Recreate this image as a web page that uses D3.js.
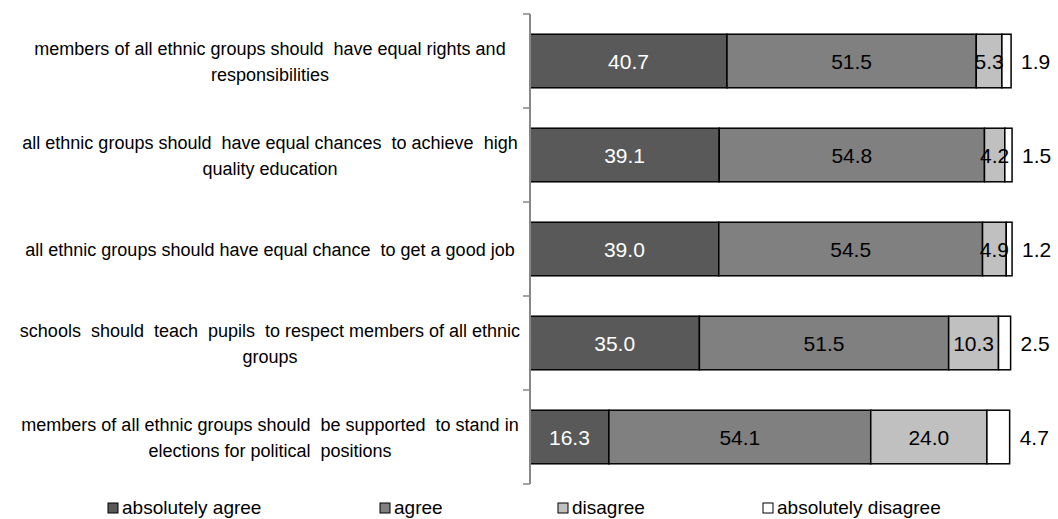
<!DOCTYPE html>
<html>
<head>
<meta charset="utf-8">
<script src="https://cdn.jsdelivr.net/npm/d3@7"></script>
<style>
  body { margin: 0; background: #fff; }
  svg { font-family: "Liberation Sans", Arial, sans-serif; }
</style>
</head>
<body>
<svg></svg>

<script>
  // data
  var categories = [
    "members of all ethnic groups should  have equal rights and\nresponsibilities",
    "all ethnic groups should  have equal chances  to achieve  high\nquality education",
    "all ethnic groups should have equal chance  to get a good job",
    "schools  should  teach  pupils  to respect members of all ethnic\ngroups",
    "members of all ethnic groups should  be supported  to stand in\nelections for political  positions"
  ];
  var seriesNames = ["absolutely agree", "agree", "disagree", "absolutely disagree"];
  var absolutelyAgree    = [40.7, 39.1, 39.0, 35.0, 16.3];
  var agree              = [51.5, 54.8, 54.5, 51.5, 54.1];
  var disagree           = [5.3, 4.2, 4.9, 10.3, 24.0];
  var absolutelyDisagree = [1.9, 1.5, 1.2, 2.5, 4.7];

  var colors = ["#595959", "#808080", "#c0c0c0", "#ffffff"];
  var labelColors = ["#fff", "#000", "#000", "#000"];

  var width = 1058, height = 519;
  var svg = d3.select("svg").attr("width", width).attr("height", height);

  var rows = categories.map(function(c, i) {
    return {cat: c, vals: [absolutelyAgree[i], agree[i], disagree[i], absolutelyDisagree[i]]};
  });

  var x = d3.scaleLinear().domain([0, 100]).range([530, 1014]);
  var y = d3.scaleBand().domain(categories).range([14, 484])
    .paddingInner(0.43).paddingOuter(0.215);

  // stacked segments
  var stack = d3.stack().keys([0, 1, 2, 3]).value(function(d, k) { return d.vals[k]; });
  var layers = stack(rows);

  var g = svg.selectAll("g.layer").data(layers)
    .enter().append("g").attr("class", "layer")
    .attr("fill", function(d, i) { return colors[i]; });

  g.selectAll("rect").data(function(d) { return d; })
    .enter().append("rect")
    .attr("x", function(d) { return x(d[0]); })
    .attr("y", function(d) { return y(d.data.cat); })
    .attr("width", function(d) { return x(d[1]) - x(d[0]); })
    .attr("height", y.bandwidth())
    .attr("stroke", "#000")
    .attr("stroke-width", 1.5);

  // value labels: inside for first three, outside right for the last
  layers.forEach(function(layer, k) {
    svg.selectAll("text.v" + k).data(layer)
      .enter().append("text")
      .attr("class", "v" + k)
      .attr("x", function(d) { return k < 3 ? (x(d[0]) + x(d[1])) / 2 : x(d[1]) + 10; })
      .attr("y", function(d) { return y(d.data.cat) + y.bandwidth() / 2; })
      .attr("text-anchor", k < 3 ? "middle" : "start")
      .attr("dominant-baseline", "central")
      .attr("font-size", 21)
      .attr("fill", labelColors[k])
      .text(function(d, i) { return d.data.vals[k].toFixed(1); });
  });

  // category axis
  var axisColor = "#868686";
  svg.append("line")
    .attr("x1", 530).attr("x2", 530)
    .attr("y1", y.range()[0]).attr("y2", y.range()[1])
    .attr("stroke", axisColor).attr("stroke-width", 2);

  var tickYs = d3.range(categories.length + 1).map(function(i) { return y.range()[0] + i * y.step(); });
  svg.selectAll("line.tick").data(tickYs)
    .enter().append("line").attr("class", "tick")
    .attr("x1", 523).attr("x2", 530)
    .attr("y1", function(d) { return d; }).attr("y2", function(d) { return d; })
    .attr("stroke", axisColor).attr("stroke-width", 1.5);

  var lab = svg.selectAll("text.cat").data(categories)
    .enter().append("text").attr("class", "cat")
    .attr("text-anchor", "middle")
    .attr("font-size", 18)
    .attr("fill", "#000")
    .style("white-space", "pre");

  lab.each(function(c) {
    var lines = c.split("\n");
    var cy = y(c) + y.bandwidth() / 2 + 1;
    var lh = 26;
    var t = d3.select(this);
    lines.forEach(function(l, j) {
      t.append("tspan")
        .attr("x", 270)
        .attr("y", cy + (j - (lines.length - 1) / 2) * lh)
        .attr("dominant-baseline", "central")
        .text(l);
    });
  });

  // legend
  var legendX = [108, 380, 558, 763];
  var leg = svg.selectAll("g.leg").data(seriesNames)
    .enter().append("g").attr("class", "leg")
    .attr("transform", function(d, i) { return "translate(" + legendX[i] + ",503)"; });
  leg.append("rect")
    .attr("width", 10).attr("height", 10)
    .attr("fill", function(d, i) { return colors[i]; })
    .attr("stroke", "#000").attr("stroke-width", 1);
  leg.append("text")
    .attr("x", 14).attr("y", 10.5)
    .attr("font-size", 19)
    .attr("fill", "#000")
    .text(function(d) { return d; });
</script>
</body>
</html>
